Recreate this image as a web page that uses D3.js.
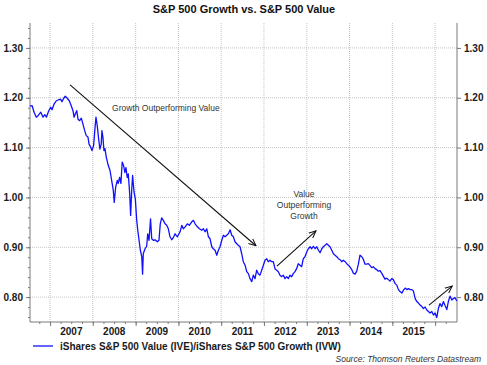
<!DOCTYPE html>
<html>
<head>
<meta charset="utf-8">
<script src="https://cdn.jsdelivr.net/npm/d3@7"></script>
<style>
  body { margin: 0; background: #ffffff; }
  text { font-family: "Liberation Sans", Arial, sans-serif; }
</style>
</head>
<body>
<div id="chart"></div>
<script>
/*
    S&P 500 Value / Growth ratio, 2006 - 2016
*/

// DATA

const dates = [
  "2006-07-14","2006-08-01","2006-08-18","2006-09-06","2006-09-21","2006-10-14","2006-11-02","2006-11-17","2006-12-01","2006-12-21",
  "2007-01-07","2007-01-18","2007-02-04","2007-02-24","2007-03-16","2007-04-02","2007-04-13","2007-04-28","2007-05-11","2007-05-28",
  "2007-06-14","2007-07-01","2007-07-16","2007-07-25","2007-08-05","2007-08-17","2007-08-28","2007-09-11","2007-09-25","2007-10-09",
  "2007-10-24","2007-11-06","2007-11-21","2007-11-30","2007-12-14","2007-12-25",
  "2008-01-08","2008-01-17","2008-01-28","2008-02-08","2008-02-20","2008-03-02","2008-03-13","2008-03-19","2008-03-28","2008-04-05",
  "2008-04-14","2008-04-25","2008-05-10","2008-05-27","2008-06-10","2008-06-24","2008-07-02","2008-07-14","2008-07-28","2008-08-05",
  "2008-08-17","2008-08-28","2008-09-08","2008-09-20","2008-10-01","2008-10-10","2008-10-21","2008-10-30","2008-11-11","2008-11-19",
  "2008-11-28","2008-12-06","2008-12-18","2008-12-29",
  "2009-01-10","2009-01-19","2009-01-30","2009-02-10","2009-02-22","2009-03-01","2009-03-07","2009-03-22","2009-04-05","2009-04-14",
  "2009-04-25","2009-05-08","2009-05-18","2009-06-01","2009-06-15","2009-07-05","2009-07-19","2009-07-30","2009-08-11","2009-08-25",
  "2009-09-09","2009-09-23","2009-10-07","2009-10-21","2009-11-05","2009-11-22","2009-12-03","2009-12-23",
  "2010-01-15","2010-01-30","2010-02-12","2010-02-27","2010-03-18","2010-04-04","2010-04-25","2010-05-09","2010-05-23","2010-06-12",
  "2010-06-29","2010-07-19","2010-08-02","2010-08-16","2010-08-31","2010-09-14","2010-09-28","2010-10-13","2010-10-26","2010-11-10",
  "2010-11-24","2010-12-08","2010-12-22",
  "2011-01-06","2011-01-20","2011-02-03","2011-02-17","2011-03-03","2011-03-18","2011-04-01","2011-04-15","2011-04-29","2011-05-14",
  "2011-05-27","2011-06-11","2011-06-25","2011-07-09","2011-07-24","2011-08-07","2011-08-21","2011-09-04","2011-09-19","2011-10-02",
  "2011-10-17","2011-10-31","2011-11-14","2011-11-28","2011-12-13","2011-12-27",
  "2012-01-10","2012-01-25","2012-02-07","2012-02-22","2012-03-07","2012-03-21","2012-04-04","2012-04-19","2012-05-03","2012-05-17",
  "2012-06-01","2012-06-14","2012-06-29","2012-07-13","2012-07-27","2012-08-10","2012-08-25","2012-09-07","2012-09-22","2012-10-06",
  "2012-10-20","2012-11-04","2012-11-18","2012-12-02","2012-12-16",
  "2013-01-01","2013-01-14","2013-01-29","2013-02-12","2013-02-26","2013-03-12","2013-03-27","2013-04-10","2013-04-24","2013-05-09",
  "2013-05-22","2013-06-06","2013-06-20","2013-07-04","2013-07-18","2013-08-02","2013-08-16","2013-08-30","2013-09-14","2013-09-27",
  "2013-10-12","2013-10-26","2013-11-09","2013-11-24","2013-12-08","2013-12-22",
  "2014-01-05","2014-01-20","2014-02-02","2014-02-17","2014-03-03","2014-03-17","2014-03-31","2014-04-15","2014-04-28","2014-05-13",
  "2014-05-27","2014-06-10","2014-06-25","2014-07-09","2014-07-23","2014-08-06","2014-08-21","2014-09-03","2014-09-18","2014-10-02",
  "2014-10-16","2014-10-30","2014-11-14","2014-11-28","2014-12-12","2014-12-27",
  "2015-01-10","2015-01-25","2015-02-08","2015-02-22","2015-03-08","2015-03-23","2015-04-06","2015-04-20","2015-05-05","2015-05-18",
  "2015-06-02","2015-06-16","2015-06-30","2015-07-15","2015-07-29","2015-08-12","2015-08-26","2015-09-10","2015-09-23","2015-10-08",
  "2015-10-22","2015-11-05","2015-11-19","2015-12-04","2015-12-18",
  "2016-01-01","2016-01-15","2016-01-29","2016-02-12","2016-02-27","2016-03-12","2016-03-26","2016-04-10","2016-04-23","2016-05-08",
  "2016-05-23","2016-06-05","2016-06-19","2016-07-04"
];

const ratio = [
  1.183,1.184,1.171,1.161,1.164,1.171,1.161,1.166,1.161,1.174,
  1.181,1.176,1.187,1.194,1.196,1.197,1.192,1.199,1.203,1.199,
  1.194,1.184,1.174,1.161,1.168,1.174,1.157,1.154,1.159,1.147,
  1.134,1.124,1.121,1.107,1.101,1.094,
  1.104,1.131,1.161,1.144,1.117,1.097,1.107,1.134,1.120,1.094,
  1.098,1.081,1.066,1.054,1.034,1.014,0.990,1.020,1.034,1.028,
  1.040,1.028,1.071,1.064,1.050,1.060,1.040,1.047,1.007,0.964,
  1.014,1.044,1.011,0.997,
  0.954,0.934,0.914,0.894,0.881,0.846,0.887,0.897,0.902,0.927,
  0.914,0.957,0.917,0.914,0.915,0.911,0.914,0.947,0.959,0.954,
  0.947,0.944,0.937,0.921,0.915,0.921,0.927,0.921,
  0.931,0.944,0.937,0.941,0.947,0.944,0.951,0.954,0.947,0.941,
  0.937,0.934,0.937,0.931,0.937,0.921,0.917,0.901,0.897,0.894,
  0.884,0.894,0.901,
  0.914,0.924,0.921,0.924,0.927,0.935,0.924,0.921,0.911,0.907,
  0.904,0.901,0.887,0.871,0.864,0.851,0.847,0.837,0.831,0.844,
  0.837,0.854,0.847,0.844,0.854,0.864,
  0.874,0.877,0.871,0.874,0.871,0.871,0.857,0.854,0.851,0.844,
  0.841,0.844,0.837,0.841,0.837,0.844,0.841,0.847,0.851,0.857,
  0.867,0.864,0.861,0.877,0.881,
  0.891,0.897,0.901,0.897,0.902,0.897,0.901,0.894,0.889,0.897,
  0.901,0.904,0.907,0.904,0.901,0.894,0.887,0.884,0.881,0.877,
  0.875,0.871,0.874,0.871,0.867,0.864,
  0.860,0.855,0.848,0.846,0.852,0.866,0.884,0.881,0.876,0.866,
  0.866,0.867,0.863,0.859,0.861,0.857,0.855,0.852,0.853,0.848,
  0.842,0.836,0.838,0.835,0.832,0.837,
  0.835,0.827,0.824,0.815,0.811,0.808,0.814,0.818,0.815,0.817,
  0.815,0.815,0.812,0.797,0.791,0.788,0.784,0.781,0.777,0.780,
  0.774,0.771,0.768,0.771,0.764,
  0.768,0.759,0.777,0.787,0.781,0.791,0.783,0.775,0.791,0.802,
  0.794,0.797,0.799,0.792
];

const years = [2007, 2008, 2009, 2010, 2011, 2012, 2013, 2014, 2015];
const yTicks = [0.80, 0.90, 1.00, 1.10, 1.20, 1.30];

// annotations: [date, value] pairs
const arrows = [
  [["2007-06-21", 1.226], ["2011-10-25", 0.903]],
  [["2012-04-21", 0.862], ["2013-03-20", 0.933]],
  [["2015-11-10", 0.784], ["2016-05-26", 0.822]]
];
const notes = [
  { date: "2009-09-16", value: 1.173, lines: ["Growth Outperforming Value"] },
  { date: "2012-12-08", value: 1.000, lines: ["Value", "Outperforming", "Growth"] }
];

// SETUP

const setup = {
  width: 487,
  height: 365,
  left: 30,
  right: 457,
  top: 23,
  bottom: 322
};

const parse = d3.timeParse("%Y-%m-%d");
const series = dates.map((d, i) => ({ date: parse(d), value: ratio[i] }));

const x = d3.scaleTime()
  .domain([parse("2006-07-14"), parse("2016-07-06")])
  .range([setup.left, setup.right]);

const y = d3.scaleLinear()
  .domain([0.75, 1.35])
  .range([setup.bottom, setup.top]);

const svg = d3.select("#chart")
  .append("svg")
  .attr("width", setup.width)
  .attr("height", setup.height);

svg.append("defs")
  .append("marker")
  .attr("id", "head")
  .attr("viewBox", "0 0 10 10")
  .attr("refX", 9)
  .attr("refY", 5)
  .attr("markerWidth", 8)
  .attr("markerHeight", 8)
  .attr("markerUnits", "userSpaceOnUse")
  .attr("orient", "auto")
  .append("path")
  .attr("d", "M0,1 L9,5 L0,9")
  .attr("fill", "none")
  .attr("stroke", "#111")
  .attr("stroke-width", 1.3);

// TITLE

svg.append("text")
  .attr("x", 244)
  .attr("y", 13)
  .attr("text-anchor", "middle")
  .style("font-size", "11px")
  .style("font-weight", "bold")
  .style("fill", "#111")
  .text("S&P 500 Growth vs. S&P 500 Value");

// GRID

const yearStarts = d3.timeYear.range(parse("2007-01-01"), parse("2016-01-02"));

svg.append("g")
  .selectAll("line")
  .data(yearStarts)
  .join("line")
  .attr("x1", d => x(d)).attr("x2", d => x(d))
  .attr("y1", setup.top).attr("y2", setup.bottom)
  .attr("stroke", "#c4c4c4")
  .style("stroke-dasharray", "1, 1");

svg.append("g")
  .selectAll("line")
  .data(yTicks)
  .join("line")
  .attr("x1", setup.left).attr("x2", setup.right)
  .attr("y1", d => y(d)).attr("y2", d => y(d))
  .attr("stroke", "#c4c4c4")
  .style("stroke-dasharray", "1, 1");

// AXES

const axisColor = "#7a7a7a";

const leftAxis = svg.append("g")
  .attr("transform", `translate(${setup.left},0)`)
  .call(d3.axisLeft(y).tickValues(d3.range(0.76, 1.35, 0.02)).tickSize(2).tickFormat(""));
leftAxis.select(".domain").remove();
leftAxis.selectAll("line").attr("stroke", axisColor);

const leftMajor = svg.append("g")
  .attr("transform", `translate(${setup.left},0)`)
  .call(d3.axisLeft(y).tickValues(yTicks).tickSize(4).tickPadding(3).tickFormat(d3.format(".2f")));
leftMajor.select(".domain").remove();

const rightAxis = svg.append("g")
  .attr("transform", `translate(${setup.right},0)`)
  .call(d3.axisRight(y).tickValues(yTicks).tickSize(4).tickPadding(3).tickFormat(d3.format(".2f")));
rightAxis.select(".domain").remove();

[leftMajor, rightAxis].forEach(g => {
  g.selectAll("line").attr("stroke", axisColor);
  g.selectAll("text")
    .style("font-family", '"Liberation Sans", Arial, sans-serif')
    .style("font-size", "10px")
    .style("font-weight", "bold")
    .style("fill", "#1a1a1a");
});

const quarters = d3.timeMonth.every(3).range(parse("2006-10-01"), parse("2016-07-01"));

const bottomMinor = svg.append("g")
  .attr("transform", `translate(0,${setup.bottom})`)
  .call(d3.axisBottom(x).tickValues(quarters).tickSize(2).tickFormat(""));
bottomMinor.select(".domain").remove();
bottomMinor.selectAll("line").attr("stroke", axisColor);

const bottomMajor = svg.append("g")
  .attr("transform", `translate(0,${setup.bottom})`)
  .call(d3.axisBottom(x).tickValues(yearStarts).tickSize(4).tickFormat(""));
bottomMajor.select(".domain").remove();
bottomMajor.selectAll("line").attr("stroke", axisColor);

svg.append("g")
  .selectAll("text")
  .data(years)
  .join("text")
  .attr("x", d => x(new Date(d, 6, 2)))
  .attr("y", setup.bottom + 13)
  .attr("text-anchor", "middle")
  .style("font-size", "10px")
  .style("font-weight", "bold")
  .style("fill", "#1a1a1a")
  .text(d => d);

// frame lines: left, right, bottom
svg.append("path")
  .attr("d", `M${setup.left},${setup.top}V${setup.bottom}H${setup.right}V${setup.top}`)
  .attr("fill", "none")
  .attr("stroke", axisColor)
  .attr("stroke-width", 1);

// SERIES

const line = d3.line()
  .x(d => x(d.date))
  .y(d => y(d.value));

svg.append("path")
  .datum(series)
  .attr("d", line)
  .attr("fill", "none")
  .attr("stroke", "#1010ff")
  .attr("stroke-width", 1.3)
  .attr("stroke-linejoin", "round");

// ANNOTATIONS

svg.append("g")
  .selectAll("line")
  .data(arrows)
  .join("line")
  .attr("x1", d => x(parse(d[0][0])))
  .attr("y1", d => y(d[0][1]))
  .attr("x2", d => x(parse(d[1][0])))
  .attr("y2", d => y(d[1][1]))
  .attr("stroke", "#111")
  .attr("stroke-width", 1.1)
  .attr("marker-end", "url(#head)");

notes.forEach(n => {
  const t = svg.append("text")
    .attr("text-anchor", "middle")
    .style("font-size", "8.5px")
    .style("fill", "#333");
  n.lines.forEach((l, i) => {
    t.append("tspan")
      .attr("x", x(parse(n.date)))
      .attr("y", y(n.value) + i * 10.8)
      .text(l);
  });
});

// LEGEND

svg.append("line")
  .attr("x1", 33).attr("x2", 53)
  .attr("y1", 346).attr("y2", 346)
  .attr("stroke", "#1010ff")
  .attr("stroke-width", 1.3);

svg.append("text")
  .attr("x", 60)
  .attr("y", 349.5)
  .style("font-size", "10px")
  .style("font-weight", "bold")
  .style("fill", "#1a1a1a")
  .text("iShares S&P 500 Value (IVE)/iShares S&P 500 Growth (IVW)");

svg.append("text")
  .attr("x", 481)
  .attr("y", 362)
  .attr("text-anchor", "end")
  .style("font-size", "8.5px")
  .style("font-style", "italic")
  .style("fill", "#333")
  .text("Source: Thomson Reuters Datastream");
</script>
</body>
</html>
